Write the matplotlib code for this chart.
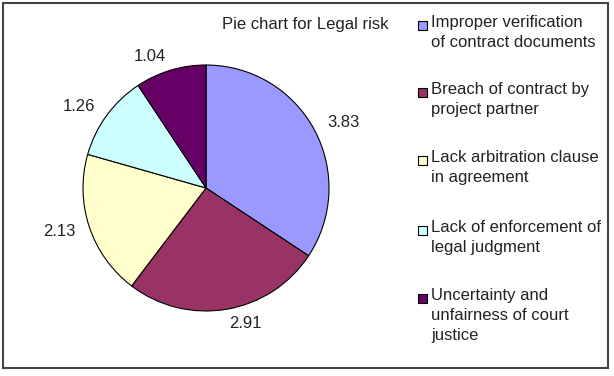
import matplotlib.pyplot as plt
from matplotlib.patches import Rectangle

values = [3.83, 2.91, 2.13, 1.26, 1.04]
value_labels = ["3.83", "2.91", "2.13", "1.26", "1.04"]
categories = [
    "Improper verification\nof contract documents",
    "Breach of contract by\nproject partner",
    "Lack arbitration clause\nin agreement",
    "Lack of enforcement of\nlegal judgment",
    "Uncertainty and\nunfairness of court\njustice",
]
colors = ["#9999ff", "#993366", "#ffffcc", "#ccffff", "#660066"]

plt.rcParams['font.family'] = ['Liberation Sans', 'DejaVu Sans']

W, H = 614, 376
fig = plt.figure(figsize=(W / 100, H / 100), dpi=100)

# outer frame
fig.patches.append(Rectangle((3 / W, 8 / H), 605 / W, 365 / H, transform=fig.transFigure,
                             fill=False, edgecolor="#444444", linewidth=1.5))

# pie centred at (206, 188) px, radius 123 px
cx, cy, r = 206, 188, 123
ax = fig.add_axes([(cx - r) / W, (H - cy - r) / H, 2 * r / W, 2 * r / H])
wedges, texts = ax.pie(values, labels=value_labels, colors=colors, startangle=90,
                       counterclock=False, labeldistance=1.12,
                       wedgeprops=dict(edgecolor="black", linewidth=0.8),
                       textprops=dict(fontsize=12, color="#222222"))
ax.set_xlim(-1, 1)
ax.set_ylim(-1, 1)
ax.set_aspect("equal")

fig.text(305 / W, 1 - 25 / H, "Pie chart for Legal risk", fontsize=12,
         ha="center", va="center", color="#222222")

# legend drawn by hand so the swatch sits on the first line
tops = [25, 92, 160, 230, 298]
for lab, col, top in zip(categories, colors, tops):
    fig.patches.append(Rectangle((418 / W, 1 - (top + 5) / H), 9 / W, 9 / H,
                                 transform=fig.transFigure, facecolor=col,
                                 edgecolor="black", linewidth=0.8))
    fig.text(431 / W, 1 - (top - 10) / H, lab, fontsize=12, ha="left", va="top",
             linespacing=1.4, color="#222222")

fig.savefig("out.png", dpi=100)
